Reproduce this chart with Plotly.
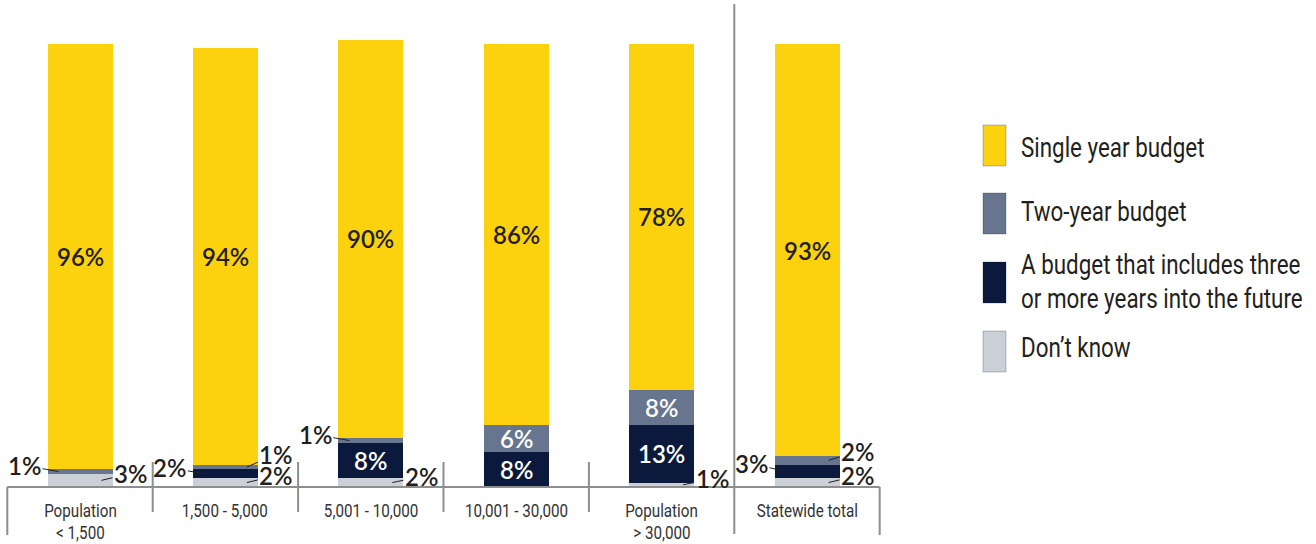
import plotly.graph_objects as go

# ---- data -------------------------------------------------------------
categories = [
    "Population<br>&lt; 1,500",
    "1,500 - 5,000",
    "5,001 - 10,000",
    "10,001 - 30,000",
    "Population<br>&gt; 30,000",
    "Statewide total",
]
series_names = [
    "Don\u2019t know",
    "A budget that includes three<br>or more years into the future",
    "Two-year budget",
    "Single year budget",
]
dont_know = [3, 2, 2, 0, 1, 2]
three_plus = [0, 2, 8, 8, 13, 3]
two_year = [1, 1, 1, 6, 8, 2]
single_year = [96, 94, 90, 86, 78, 93]

# ---- styling ----------------------------------------------------------
COLORS = ["#CACFD8", "#0B1A3C", "#67768E", "#FCD10D"]
INSIDE_TEXT = ["#231F20", "#FFFFFF", "#FFFFFF", "#231F20"]
DARK = "#231F20"
RULE = "#8E8E8E"
NUM_FONT = "Lato"
COND_FONT = "Roboto"      # narrowed horizontally in the page script below

W, H = 1316, 544
X0_PX, X_STEP_PX = 80, 145.4          # pixel of first bar centre, pixels per category
Y0_PX, Y_UNIT_PX = 487, 4.43          # pixel of 0 %, pixels per percentage point
BAR_W = 65 / X_STEP_PX

x_range = [-X0_PX / X_STEP_PX, (W - X0_PX) / X_STEP_PX]
y_range = [-(H - Y0_PX) / Y_UNIT_PX, Y0_PX / Y_UNIT_PX]


def ypx(py):
    """Pixel row -> y data value."""
    return (Y0_PX - py) / Y_UNIT_PX


def px_off(p):
    """Pixel distance -> x data distance."""
    return p / X_STEP_PX


stack = [dont_know, three_plus, two_year, single_year]
xs = list(range(len(categories)))

fig = go.Figure()
for name, vals, col in zip(series_names, stack, COLORS):
    fig.add_trace(go.Bar(
        x=xs, y=vals, name=name, width=BAR_W,
        marker=dict(color=col, line=dict(width=0)),
        showlegend=False,
        hovertemplate=name.replace("<br>", " ") + ": %{y}%<extra></extra>",
    ))

annotations = []
shapes = []

# labels for small segments sit beside the bar with a short leader line
side_of = {
    (0, 2): "left", (0, 0): "right",
    (1, 1): "left", (1, 2): "right", (1, 0): "right",
    (2, 2): "left", (2, 0): "right",
    (4, 0): "right",
    (5, 1): "left", (5, 2): "right", (5, 0): "right",
}
lift = {(1, 2): -13, (1, 0): -7, (5, 2): -9, (5, 0): -7, (0, 0): -7, (5, 1): -8}

for ci in xs:
    base = 0
    for si, vals in enumerate(stack):
        v = vals[ci]
        mid = base + v / 2
        if v >= 5:
            annotations.append(dict(
                x=ci, y=mid, text=f"{v}%", showarrow=False,
                font=dict(family=NUM_FONT, size=24, color=INSIDE_TEXT[si], weight=600),
            ))
        elif v > 0:
            side = side_of.get((ci, si), "right")
            edge = BAR_W / 2 - px_off(11)
            if side == "left":
                tip_x, ax = ci - edge, -34
            else:
                tip_x, ax = ci + edge, 29
            annotations.append(dict(
                x=tip_x, y=mid, text=f"{v}%", showarrow=True,
                arrowhead=0, arrowwidth=1, arrowcolor=DARK, standoff=0,
                ax=ax, ay=lift.get((ci, si), -6),
                font=dict(family=NUM_FONT, size=24, color=DARK, weight=600),
            ))
        base += v

# category labels under the axis, one annotation per text line
for ci, cat in enumerate(categories):
    for text_line, ty in zip(cat.split("<br>"), (510, 532)):
        annotations.append(dict(
            x=ci, y=ypx(ty), text=text_line, showarrow=False, yanchor="middle",
            font=dict(family=COND_FONT, size=19, color="#333333"),
        ))

# axis rule and category separators
line = dict(color=RULE, width=2)
shapes.append(dict(type="line", x0=-0.5, x1=len(xs) - 0.5, y0=0, y1=0, line=line))
for k in range(len(xs) + 1):
    xb = k - 0.5
    if k in (0, len(xs)):
        y_top, y_bot = 0, ypx(535)
    elif k == len(xs) - 1:
        y_top, y_bot = ypx(4), ypx(534)
    else:
        y_top, y_bot = ypx(462), ypx(512)
    shapes.append(dict(type="line", x0=xb, x1=xb, y0=y_top, y1=y_bot, line=line))

# legend drawn as tall swatches with text
legend_rows = [(3, [147], 125), (2, [211], 193), (1, [265, 298], 262), (0, [347], 331)]
for si, text_rows, box_top in legend_rows:
    shapes.append(dict(
        type="rect", xref="paper", yref="paper",
        x0=983 / W, x1=1006 / W, y0=1 - (box_top + 41) / H, y1=1 - box_top / H,
        fillcolor=COLORS[si], line=dict(color="rgba(0,0,0,0.22)", width=1),
    ))
    for text_line, ty in zip(series_names[si].split("<br>"), text_rows):
        annotations.append(dict(
            xref="paper", yref="paper", x=1020 / W, y=1 - ty / H,
            xanchor="left", yanchor="middle", align="left", showarrow=False,
            xshift=-1, text=text_line,
            font=dict(family=COND_FONT, size=28, color=DARK),
        ))

fig.update_layout(
    width=W, height=H,
    margin=dict(l=0, r=0, t=0, b=0),
    paper_bgcolor="white", plot_bgcolor="white",
    barmode="stack", bargap=0,
    xaxis=dict(range=x_range, visible=False, fixedrange=True),
    yaxis=dict(range=y_range, visible=False, fixedrange=True),
    annotations=annotations, shapes=shapes,
    showlegend=False,
)

# narrow the Roboto texts horizontally to give them a condensed face
SQUEEZE_JS = """
var gd = document.getElementById('{plot_id}');
function squeeze() {
  gd.querySelectorAll('text.annotation-text').forEach(function (t) {
    var fam = t.style.fontFamily || '';
    if (fam.indexOf('Roboto') === -1) return;
    var anchor = t.getAttribute('text-anchor') || 'middle';
    t.style.transformBox = 'fill-box';
    t.style.transformOrigin = anchor === 'start' ? 'left center' : 'center';
    t.style.transform = 'scaleX(0.8)';
  });
}
squeeze();
gd.on('plotly_afterplot', squeeze);
"""

fig.write_html("out.html", config={"displayModeBar": False}, post_script=SQUEEZE_JS)
